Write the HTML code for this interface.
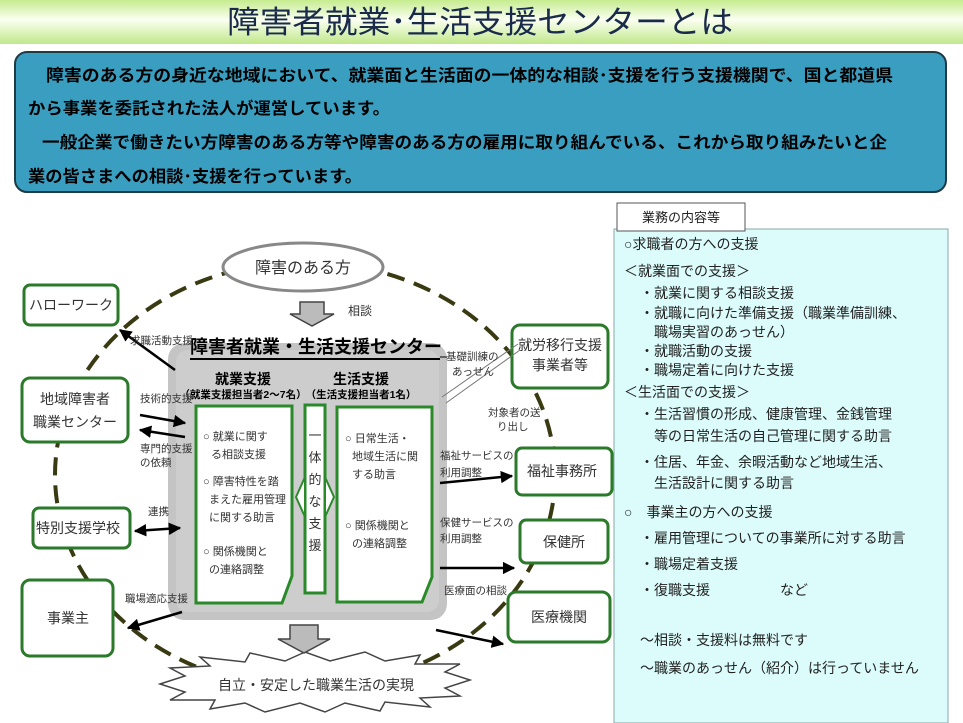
<!DOCTYPE html>
<html><head><meta charset="utf-8"><style>
body{margin:0;width:963px;height:723px;overflow:hidden;background:#fff}
svg{display:block}
text{font-family:"Liberation Sans","Noto Sans CJK JP",sans-serif}
</style></head><body>
<svg width="963" height="723" viewBox="0 0 963 723" xmlns="http://www.w3.org/2000/svg">
<defs>
<linearGradient id="tg" x1="0" y1="0" x2="0" y2="1">
<stop offset="0" stop-color="#c6ec8e"/><stop offset="0.45" stop-color="#fbfff2"/><stop offset="1" stop-color="#c0e88a"/>
</linearGradient>
<marker id="ah" viewBox="0 0 10 10" refX="9" refY="5" markerWidth="5" markerHeight="5" orient="auto-start-reverse"><path d="M0,0L10,5L0,10z" fill="#000"/></marker>
</defs>
<rect x="0" y="0" width="963" height="44" fill="url(#tg)"/>
<text x="227" y="33" font-size="31" textLength="506" lengthAdjust="spacingAndGlyphs" fill="#1a2a4a">障害者就業･生活支援センターとは</text>
<rect x="15" y="52" width="931" height="140" rx="12" fill="#3a9ec0" stroke="#1d3a45" stroke-width="2"/>
<g font-size="16.5" font-weight="bold" fill="#000">
<text x="46" y="81" textLength="847" lengthAdjust="spacingAndGlyphs">障害のある方の身近な地域において、就業面と生活面の一体的な相談･支援を行う支援機関で、国と都道県</text>
<text x="28" y="114" textLength="362" lengthAdjust="spacingAndGlyphs">から事業を委託された法人が運営しています。</text>
<text x="42" y="148" textLength="845" lengthAdjust="spacingAndGlyphs">一般企業で働きたい方障害のある方等や障害のある方の雇用に取り組んでいる、これから取り組みたいと企</text>
<text x="28" y="182" textLength="334" lengthAdjust="spacingAndGlyphs">業の皆さまへの相談･支援を行っています。</text>
</g>
<!-- right panel -->
<rect x="614" y="229" width="334" height="494" fill="#dcfbfb" stroke="#8aa" stroke-width="1"/>
<rect x="617" y="203" width="128" height="28" fill="#fff" stroke="#555" stroke-width="1"/>
<text x="681" y="222" font-size="13" text-anchor="middle" fill="#222">業務の内容等</text>
<g font-size="14" fill="#222">
<text x="624" y="249">○求職者の方への支援</text>
<text x="624" y="276">＜就業面での支援＞</text>
<text x="640" y="298">・就業に関する相談支援</text>
<text x="640" y="318">・就職に向けた準備支援（職業準備訓練、</text>
<text x="654" y="337">職場実習のあっせん）</text>
<text x="640" y="356">・就職活動の支援</text>
<text x="640" y="375">・職場定着に向けた支援</text>
<text x="624" y="397">＜生活面での支援＞</text>
<text x="640" y="419">・生活習慣の形成、健康管理、金銭管理</text>
<text x="654" y="441">等の日常生活の自己管理に関する助言</text>
<text x="640" y="467">・住居、年金、余暇活動など地域生活、</text>
<text x="654" y="488">生活設計に関する助言</text>
<text x="624" y="517">○　事業主の方への支援</text>
<text x="640" y="543">・雇用管理についての事業所に対する助言</text>
<text x="640" y="569">・職場定着支援</text>
<text x="640" y="595">・復職支援　　　　　など</text>
<text x="640" y="645">～相談・支援料は無料です</text>
<text x="640" y="673">～職業のあっせん（紹介）は行っていません</text>
</g>
<!-- dashed ellipse -->
<ellipse cx="305" cy="475" rx="250" ry="213" fill="none" stroke="#3a3a12" stroke-width="4" stroke-dasharray="18 10"/>
<!-- gray center box -->
<rect x="168" y="343" width="279" height="277" rx="16" fill="#c4c4c4"/>
<rect x="176" y="350" width="263" height="262" rx="12" fill="#cdcdcd"/>
<!-- ellipse top node -->
<ellipse cx="303" cy="267" rx="80" ry="24" fill="#fff" stroke="#888" stroke-width="3"/>
<text x="303" y="273" font-size="16" text-anchor="middle" fill="#333">障害のある方</text>
<path d="M300,302h24v12h10l-22,12l-22,-12h10z" fill="#bbb" stroke="#444" stroke-width="1.5"/>
<text x="348" y="315" font-size="12" fill="#333">相談</text>
<text x="316" y="353" font-size="18" font-weight="bold" text-anchor="middle" fill="#000">障害者就業・生活支援センター</text>
<line x1="190" y1="359" x2="440" y2="359" stroke="#000" stroke-width="2"/>
<text x="243" y="384" font-size="14" font-weight="bold" text-anchor="middle">就業支援</text>
<text x="243" y="398" font-size="10.5" font-weight="bold" text-anchor="middle">（就業支援担当者2～7名）</text>
<text x="361" y="384" font-size="14" font-weight="bold" text-anchor="middle">生活支援</text>
<text x="361" y="398" font-size="10.5" font-weight="bold" text-anchor="middle">（生活支援担当者1名）</text>
<g fill="#fff" stroke="#2a8a2a" stroke-width="3">
<path d="M196,406h96v170l-10,27h-86z"/>
<rect x="305" y="405" width="20" height="188"/>
<path d="M337,407h95v170l-10,25h-85z"/>
</g>
<path d="M296,497l9,-20v40z M334,497l-9,-20v40z" fill="#fff" stroke="#2a8a2a" stroke-width="2"/>
<g font-size="11" fill="#333">
<text x="203" y="440">○ 就業に関す</text><text x="211" y="458">る相談支援</text>
<text x="203" y="485">○ 障害特性を踏</text><text x="209" y="503">まえた雇用管理</text><text x="209" y="521">に関する助言</text>
<text x="203" y="555">○ 関係機関と</text><text x="209" y="573">の連絡調整</text>
<text x="345" y="442">○ 日常生活・</text><text x="352" y="460">地域生活に関</text><text x="352" y="478">する助言</text>
<text x="345" y="529">○ 関係機関と</text><text x="352" y="547">の連絡調整</text>
</g>
<g font-size="13" fill="#333" text-anchor="middle">
<text x="315" y="440">一</text><text x="315" y="462">体</text><text x="315" y="484">的</text><text x="315" y="506">な</text><text x="315" y="528">支</text><text x="315" y="550">援</text>
</g>
<!-- nodes -->
<g fill="#fff" stroke="#2a7a2a" stroke-width="3">
<rect x="24" y="285" width="94" height="40" rx="6"/>
<rect x="22" y="378" width="106" height="64" rx="8"/>
<rect x="33" y="508" width="97" height="40" rx="6"/>
<rect x="22" y="580" width="91" height="76" rx="8"/>
<rect x="512" y="325" width="96" height="63" rx="8"/>
<rect x="516" y="448" width="96" height="47" rx="6"/>
<rect x="520" y="520" width="88" height="43" rx="6"/>
<rect x="508" y="592" width="102" height="50" rx="8"/>
</g>
<g font-size="14" fill="#333" text-anchor="middle">
<text x="71" y="310">ハローワーク</text>
<text x="75" y="404">地域障害者</text><text x="75" y="427">職業センター</text>
<text x="78" y="533">特別支援学校</text>
<text x="68" y="623">事業主</text>
<text x="560" y="350">就労移行支援</text><text x="560" y="370">事業者等</text>
<text x="562" y="476">福祉事務所</text>
<text x="564" y="547">保健所</text>
<text x="559" y="622">医療機関</text>
</g>
<!-- starburst -->
<path d="M160,684l25,-8l-15,-8l40,-2l-10,-9l45,5l5,-9l35,8l20,-9l25,9l35,-9l20,9l35,-6l-5,9l45,0l-15,8l25,8l-25,8l15,8l-40,2l10,9l-45,-5l-5,9l-35,-8l-20,9l-25,-9l-35,9l-20,-9l-35,6l5,-9l-45,0l15,-8z" fill="#fff" stroke="#444" stroke-width="1.5"/>
<text x="316" y="690" font-size="14" text-anchor="middle" fill="#333">自立・安定した職業生活の実現</text>
<path d="M290,625h28v14h12l-26,14l-26,-14h12z" fill="#bbb" stroke="#444" stroke-width="1.5"/>
<!-- arrows -->
<g stroke="#000" stroke-width="2.5" fill="none" marker-end="url(#ah)">
<line x1="175" y1="370" x2="120" y2="330"/>
<line x1="140" y1="415" x2="185" y2="423"/>
<line x1="185" y1="437" x2="140" y2="430"/>
<line x1="135" y1="531" x2="180" y2="528" marker-start="url(#ah)"/>
<line x1="182" y1="612" x2="128" y2="628"/>
<line x1="440" y1="483" x2="512" y2="476"/>
<line x1="440" y1="568" x2="514" y2="568"/>
<line x1="436" y1="630" x2="503" y2="644"/>
</g>
<line x1="442" y1="397" x2="518" y2="344" stroke="#777" stroke-width="1"/>
<line x1="446" y1="403" x2="520" y2="350" stroke="#777" stroke-width="1"/>
<line x1="440" y1="357" x2="447" y2="357" stroke="#000" stroke-width="1"/>
<g font-size="10.5" fill="#333">
<text x="130" y="344">求職活動支援</text>
<text x="140" y="402">技術的支援</text>
<text x="140" y="452">専門的支援</text><text x="140" y="466">の依頼</text>
<text x="148" y="515">連携</text>
<text x="125" y="602">職場適応支援</text>
<text x="446" y="360">基礎訓練の</text><text x="452" y="375">あっせん</text>
<text x="488" y="416">対象者の送</text><text x="497" y="430">り出し</text>
<text x="440" y="459">福祉サービスの</text><text x="440" y="476">利用調整</text>
<text x="440" y="526">保健サービスの</text><text x="440" y="542">利用調整</text>
<text x="444" y="594">医療面の相談</text>
</g>
</svg>
</body></html>
